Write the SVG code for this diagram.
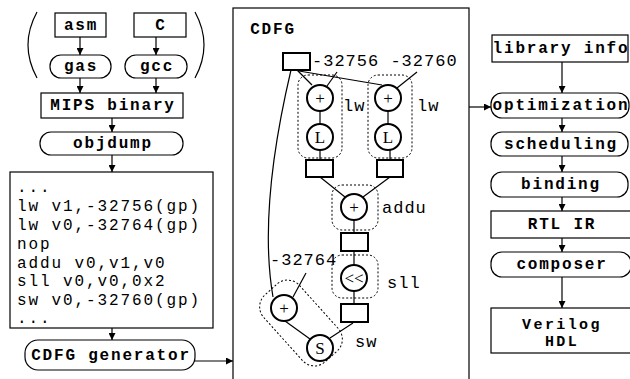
<svg xmlns="http://www.w3.org/2000/svg" width="630" height="379" viewBox="0 0 630 379">
<defs>
<marker id="ah" viewBox="0 0 10 10" refX="10" refY="5" markerWidth="7" markerHeight="7" markerUnits="userSpaceOnUse" orient="auto">
<path d="M0,0 L10,5 L0,10 z" fill="#000"/>
</marker>
</defs>
<style>
.box{fill:#fff;stroke:#000;stroke-width:1.2}
.bt{font-family:"Liberation Mono","Courier New",monospace;font-weight:bold;font-size:16px;letter-spacing:1.8px;text-anchor:middle;fill:#000}
.rt{font-family:"Liberation Mono","Courier New",monospace;font-size:16px;letter-spacing:1.9px;fill:#000}
.lt{font-family:"Liberation Mono","Courier New",monospace;font-size:17px;letter-spacing:1px;fill:#000}
.ar{fill:none;stroke:#000;stroke-width:1.2;marker-end:url(#ah)}
.ln{fill:none;stroke:#000;stroke-width:1.2}
.nd{fill:#fff;stroke:#000;stroke-width:2}
.ds{fill:none;stroke:#000;stroke-width:1;stroke-dasharray:2,2}
.ct{font-family:"Liberation Serif","Times New Roman",serif;font-size:17px;text-anchor:middle;fill:#000}
</style>
<rect width="630" height="379" fill="#fff"/>

<g id="parens">
<path class="ln" d="M37,12 Q19,45 37,78"/>
<path class="ln" d="M195,12 Q213,45 195,78"/>
</g>

<g id="connectors">
<line class="ar" x1="80" y1="37" x2="80" y2="55"/>
<line class="ar" x1="156" y1="37" x2="156" y2="55"/>
<line class="ar" x1="80" y1="78" x2="80" y2="93"/>
<line class="ar" x1="156" y1="78" x2="156" y2="93"/>
<line class="ar" x1="112" y1="118" x2="112" y2="132"/>
<line class="ar" x1="112" y1="155" x2="112" y2="172"/>
<line class="ar" x1="112" y1="328" x2="112" y2="340"/>
<line class="ar" x1="195" y1="361" x2="233" y2="361"/>
<line class="ar" x1="469" y1="107" x2="491" y2="107"/>
<line class="ar" x1="562" y1="62" x2="562" y2="93"/>
<line class="ar" x1="562" y1="118" x2="562" y2="132"/>
<line class="ar" x1="562" y1="156" x2="562" y2="172"/>
<line class="ar" x1="562" y1="197" x2="562" y2="211"/>
<line class="ar" x1="562" y1="238" x2="562" y2="252"/>
<line class="ar" x1="562" y1="277" x2="562" y2="308"/>
</g>

<g id="asm"><rect class="box" x="55" y="13" width="51" height="24"/><text class="bt" x="81" y="30">asm</text></g>
<g id="c"><rect class="box" x="134" y="13" width="52" height="24"/><text class="bt" x="161" y="30">C</text></g>
<g id="gas"><rect class="box" x="50" y="55" width="61" height="23" rx="11"/><text class="bt" x="81" y="71">gas</text></g>
<g id="gcc"><rect class="box" x="125" y="55" width="62" height="23" rx="11"/><text class="bt" x="157" y="71">gcc</text></g>
<g id="mips"><rect class="box" x="41" y="93" width="142" height="25"/><text class="bt" x="113" y="110">MIPS binary</text></g>
<g id="objdump"><rect class="box" x="40" y="132" width="143" height="23" rx="11"/><text class="bt" x="113" y="148">objdump</text></g>
<g id="code">
<rect class="box" x="10" y="172" width="203" height="156"/>
<text class="rt" x="17" y="192">...</text>
<text class="rt" x="17" y="211">lw v1,-32756(gp)</text>
<text class="rt" x="17" y="230">lw v0,-32764(gp)</text>
<text class="rt" x="17" y="249">nop</text>
<text class="rt" x="17" y="268">addu v0,v1,v0</text>
<text class="rt" x="17" y="286">sll v0,v0,0x2</text>
<text class="rt" x="17" y="305">sw v0,-32760(gp)</text>
<text class="rt" x="17" y="323">...</text>
</g>
<g id="cdfggen"><rect class="box" x="25" y="340" width="170" height="30" rx="13"/><text class="bt" x="111" y="360">CDFG generator</text></g>

<g id="cdfg">
<rect class="box" x="233" y="8" width="236" height="380"/>
<text class="bt" x="273" y="34">CDFG</text>
</g>

<g id="cdfg-edges">
<line class="ln" x1="297" y1="70" x2="312" y2="85"/>
<line class="ln" x1="299" y1="71" x2="382" y2="85"/>
<line class="ln" x1="337" y1="72" x2="327" y2="86"/>
<line class="ln" x1="417" y1="72" x2="397" y2="88"/>
<line class="ln" x1="320" y1="111" x2="320" y2="124"/>
<line class="ln" x1="388" y1="111" x2="388" y2="124"/>
<line class="ln" x1="320" y1="150" x2="320" y2="160"/>
<line class="ln" x1="390" y1="150" x2="390" y2="160"/>
<line class="ln" x1="320" y1="177" x2="345" y2="197"/>
<line class="ln" x1="390" y1="177" x2="363" y2="197"/>
<line class="ln" x1="354" y1="220" x2="354" y2="233"/>
<line class="ln" x1="354" y1="251" x2="354" y2="265"/>
<line class="ln" x1="354" y1="291" x2="354" y2="304"/>
<path class="ln" d="M291,70 Q258,210 273,297"/>
<line class="ln" x1="306" y1="273" x2="293" y2="297"/>
<line class="ln" x1="285" y1="321" x2="310" y2="339"/>
<line class="ln" x1="353" y1="323" x2="330" y2="338"/>
</g>

<g id="groups">
<rect class="ds" x="298" y="75" width="44" height="83" rx="10"/>
<rect class="ds" x="368" y="75" width="44" height="83" rx="10"/>
<rect class="ds" x="332" y="185" width="46" height="45" rx="10"/>
<rect class="ds" x="332" y="255" width="46" height="43" rx="10"/>
<rect class="ds" x="256" y="299" width="90" height="48" rx="16" transform="rotate(48 301 323)"/>
</g>

<g id="n-src"><rect class="nd" x="283" y="53" width="27" height="17"/></g>
<g id="n-add1"><circle class="nd" cx="320" cy="98" r="13"/><text class="ct" x="320" y="104">+</text></g>
<g id="n-add2"><circle class="nd" cx="388" cy="98" r="13"/><text class="ct" x="388" y="104">+</text></g>
<g id="n-l1"><circle class="nd" cx="320" cy="137" r="13"/><text class="ct" x="320" y="143">L</text></g>
<g id="n-l2"><circle class="nd" cx="388" cy="137" r="13"/><text class="ct" x="388" y="143">L</text></g>
<g id="n-r1"><rect class="nd" x="306" y="160" width="27" height="17"/></g>
<g id="n-r2"><rect class="nd" x="377" y="160" width="26" height="17"/></g>
<g id="n-addu"><circle class="nd" cx="354" cy="207" r="13"/><text class="ct" x="354" y="213">+</text></g>
<g id="n-r3"><rect class="nd" x="341" y="233" width="27" height="18"/></g>
<g id="n-sll"><circle class="nd" cx="354" cy="278" r="13"/><text class="ct" x="354" y="284">&lt;&lt;</text></g>
<g id="n-r4"><rect class="nd" x="341" y="304" width="27" height="18"/></g>
<g id="n-add3"><circle class="nd" cx="284" cy="308" r="13"/><text class="ct" x="284" y="314">+</text></g>
<g id="n-s"><circle class="nd" cx="320" cy="348" r="13"/><text class="ct" x="320" y="354">S</text></g>

<g id="cdfg-labels">
<text class="lt" x="312" y="66">-32756 -32760</text>
<text class="lt" x="343" y="111">lw</text>
<text class="lt" x="417" y="111">lw</text>
<text class="lt" x="382" y="213">addu</text>
<text class="lt" x="270" y="265">-32764</text>
<text class="lt" x="387" y="288">sll</text>
<text class="lt" x="355" y="347">sw</text>
</g>

<g id="libinfo"><rect class="box" x="492" y="35" width="136" height="27"/><text class="bt" x="561" y="53">library info</text></g>
<g id="optimization"><rect class="box" x="491" y="93" width="138" height="25" rx="11"/><text class="bt" x="561" y="110">optimization</text></g>
<g id="scheduling"><rect class="box" x="491" y="132" width="137" height="24" rx="11"/><text class="bt" x="561" y="149">scheduling</text></g>
<g id="binding"><rect class="box" x="491" y="172" width="137" height="25" rx="11"/><text class="bt" x="561" y="189">binding</text></g>
<g id="rtl"><rect class="box" x="491" y="211" width="140" height="27"/><text class="bt" x="562" y="229">RTL IR</text></g>
<g id="composer"><rect class="box" x="491" y="252" width="140" height="25" rx="11"/><text class="bt" x="562" y="269">composer</text></g>
<g id="verilog"><rect class="box" x="491" y="308" width="140" height="45"/><text class="bt" x="562" y="329" style="font-size:15px;letter-spacing:2.4px">Verilog</text><text class="bt" x="562" y="346" style="font-size:15px;letter-spacing:2.4px">HDL</text></g>
</svg>
